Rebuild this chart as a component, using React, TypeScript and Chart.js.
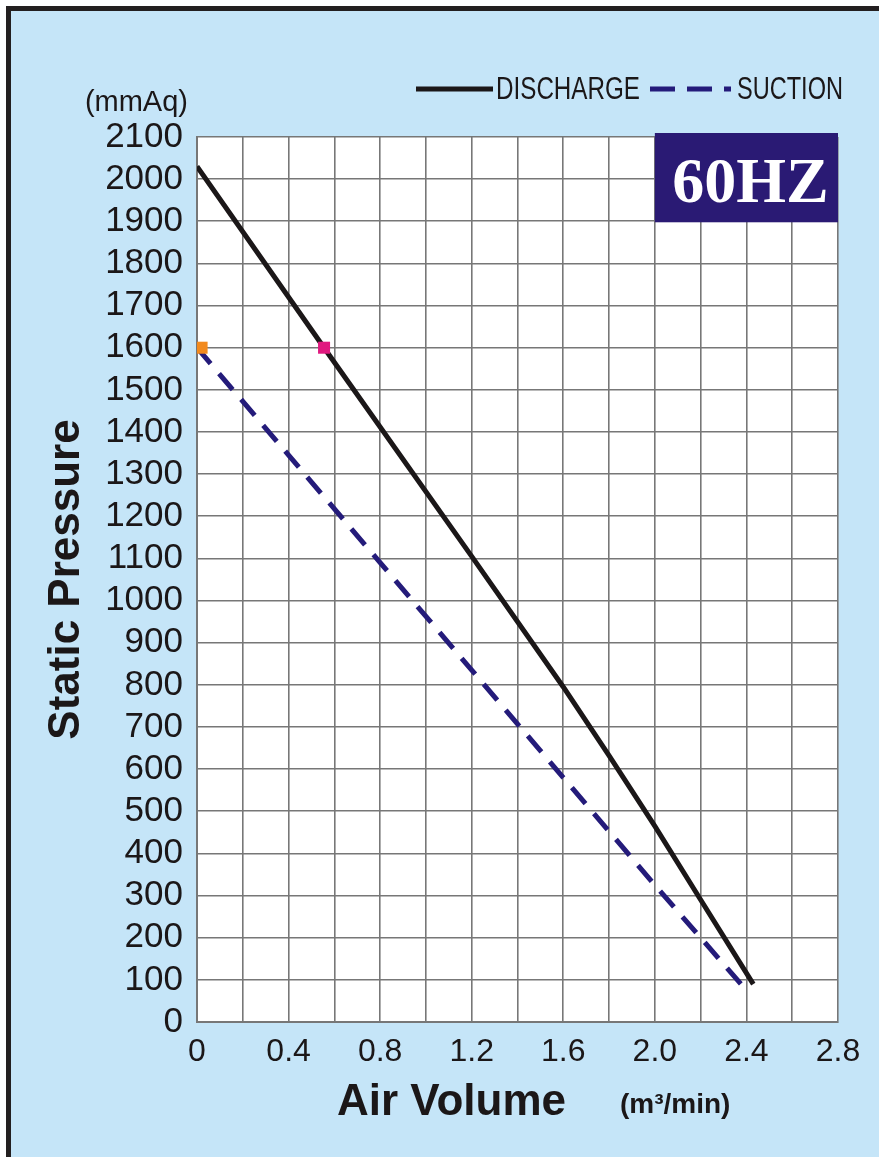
import React, { useEffect, useRef } from 'react';
import { Chart, registerables } from 'chart.js';

Chart.register(...registerables);

// ---- data ----
const xTickLabels = ['0', '0.4', '0.8', '1.2', '1.6', '2.0', '2.4', '2.8'];
const dischargeX = [0, 0.555, 1.2, 1.6, 1.8, 2.0, 2.2, 2.43];
const dischargeY = [2030, 1600, 1105, 795, 632, 465, 290, 90];
const suctionX = [0, 0.4, 0.8, 1.2, 1.6, 2.0, 2.2, 2.4];
const suctionY = [1600, 1345, 1090, 835, 580, 325, 200, 75];
const markerX = [0.02, 0.555];
const markerY = [1600, 1600];
const markerColors = ['#F28A1E', '#E0197F'];

const legendLabels = ['DISCHARGE', 'SUCTION'];
const yTitle = 'Static Pressure';
const yUnit = '(mmAq)';
const xTitle = 'Air Volume';
const xUnit = '(m³/min)';
const badgeText = '60HZ';

const SANS = "'Liberation Sans', Arial, Helvetica, sans-serif";
const SERIF = "'Liberation Serif', 'Times New Roman', serif";
const INK = '#1b1718';
const NAVY = '#241b7a';
const GRID = '#777777';

const toPoints = (xs: number[], ys: number[]) => xs.map((x, i) => ({ x, y: ys[i] }));

const decor = {
  id: 'decor',
  beforeDraw(chart: any) {
    const { ctx, chartArea: a } = chart;
    ctx.save();
    ctx.fillStyle = '#ffffff';
    ctx.fillRect(a.left, a.top, a.right - a.left, a.bottom - a.top);
    ctx.restore();
  },
  afterDraw(chart: any) {
    const { ctx, scales } = chart;
    const xs = scales.x;
    const ys = scales.y;
    ctx.save();
    // 60HZ badge
    const bx0 = xs.getPixelForValue(2.0);
    const bx1 = xs.getPixelForValue(2.8);
    const by0 = ys.getPixelForValue(2100) - 4;
    const by1 = ys.getPixelForValue(1900) + 1;
    ctx.fillStyle = '#2A1A74';
    ctx.fillRect(bx0, by0, bx1 - bx0, by1 - by0);
    ctx.fillStyle = '#ffffff';
    ctx.font = `bold 64px ${SERIF}`;
    ctx.textAlign = 'center';
    ctx.textBaseline = 'alphabetic';
    ctx.fillText(badgeText, (bx0 + bx1) / 2 + 4, by1 - 20);

    // legend
    ctx.lineCap = 'butt';
    ctx.strokeStyle = INK;
    ctx.lineWidth = 5;
    ctx.beginPath();
    ctx.moveTo(416, 89);
    ctx.lineTo(493, 89);
    ctx.stroke();
    ctx.fillStyle = INK;
    ctx.font = `31px ${SANS}`;
    ctx.textAlign = 'left';
    ctx.textBaseline = 'middle';
    ctx.fillText(legendLabels[0], 496, 90, 144);
    ctx.strokeStyle = NAVY;
    ctx.setLineDash([25, 12]);
    ctx.beginPath();
    ctx.moveTo(650, 89);
    ctx.lineTo(731, 89);
    ctx.stroke();
    ctx.setLineDash([]);
    ctx.fillText(legendLabels[1], 737, 90, 106);

    // unit of y axis
    ctx.font = `29px ${SANS}`;
    ctx.textAlign = 'right';
    ctx.fillText(yUnit, 188, 103);

    // x axis title and unit
    ctx.textBaseline = 'alphabetic';
    ctx.textAlign = 'left';
    ctx.font = `bold 44px ${SANS}`;
    ctx.fillText(xTitle, 337, 1115);
    ctx.font = `bold 28px ${SANS}`;
    ctx.fillText(xUnit, 620, 1113);
    ctx.restore();
  },
};

export default function App() {
  const ref = useRef<HTMLCanvasElement>(null);

  useEffect(() => {
    const chart = new Chart(ref.current as HTMLCanvasElement, {
      type: 'line',
      data: {
        datasets: [
          {
            label: 'points',
            data: toPoints(markerX, markerY),
            showLine: false,
            pointStyle: 'rect',
            pointRadius: 8.5,
            pointBorderWidth: 0,
            pointBackgroundColor: markerColors,
            borderColor: 'transparent',
          },
          {
            label: legendLabels[0],
            data: toPoints(dischargeX, dischargeY),
            borderColor: INK,
            borderWidth: 5,
            borderJoinStyle: 'round',
            pointRadius: 0,
            tension: 0,
            fill: false,
          },
          {
            label: legendLabels[1],
            data: toPoints(suctionX, suctionY),
            borderColor: NAVY,
            borderWidth: 5,
            borderDash: [21, 13],
            pointRadius: 0,
            tension: 0,
            fill: false,
          },
        ],
      },
      options: {
        responsive: false,
        devicePixelRatio: 1,
        animation: false,
        layout: { padding: { left: 0, right: 41, top: 137, bottom: 0 } },
        plugins: { legend: { display: false }, tooltip: { enabled: false } },
        scales: {
          x: {
            type: 'linear',
            min: 0,
            max: 2.8,
            grid: { color: GRID, lineWidth: 1.6, drawTicks: false },
            border: { color: GRID, width: 2 },
            ticks: {
              stepSize: 0.2,
              autoSkip: false,
              maxRotation: 0,
              padding: 11,
              color: INK,
              font: { family: SANS, size: 32 },
              callback: (_v: any, i: number) => (i % 2 === 0 ? xTickLabels[i / 2] : ''),
            },
            afterFit: (s: any) => {
              s.height = 135;
            },
          },
          y: {
            type: 'linear',
            min: 0,
            max: 2100,
            grid: { color: GRID, lineWidth: 1.6, drawTicks: false },
            border: { color: GRID, width: 2 },
            ticks: {
              stepSize: 100,
              autoSkip: false,
              padding: 14,
              color: INK,
              font: { family: SANS, size: 35 },
              callback: (v: any) => String(Math.round(Number(v))),
            },
            title: {
              display: true,
              text: yTitle,
              color: INK,
              font: { family: SANS, size: 44, weight: 'bold' },
              padding: { top: 40, bottom: 0 },
            },
            afterFit: (s: any) => {
              s.width = 197;
            },
          },
        },
      },
      plugins: [decor],
    } as any);
    return () => chart.destroy();
  }, []);

  return (
    <div
      style={{
        position: 'absolute',
        left: 0,
        top: 0,
        width: 879,
        height: 1157,
        background: '#ffffff',
        overflow: 'hidden',
      }}
    >
      <div
        style={{
          position: 'absolute',
          left: 6,
          top: 6,
          width: 873,
          height: 1151,
          boxSizing: 'border-box',
          borderTop: '5px solid #231f20',
          borderLeft: '5px solid #231f20',
          background: '#C5E5F8',
        }}
      />
      <canvas
        ref={ref}
        width={879}
        height={1157}
        style={{ position: 'absolute', left: 0, top: 0, width: 879, height: 1157 }}
      />
    </div>
  );
}
